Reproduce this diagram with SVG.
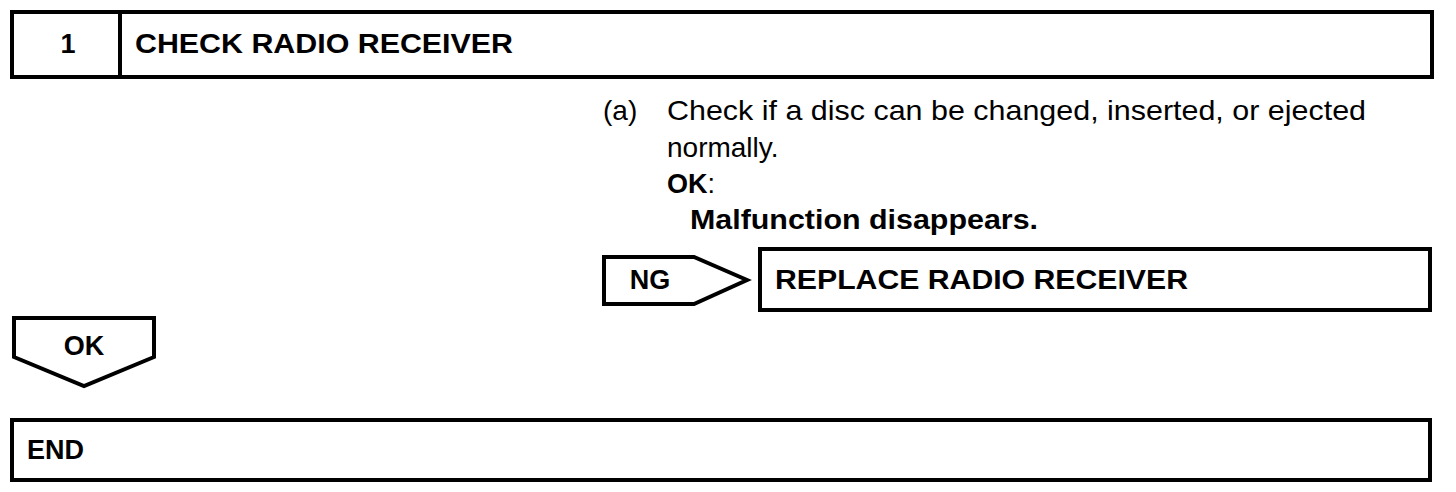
<svg xmlns="http://www.w3.org/2000/svg" width="1456" height="492" viewBox="0 0 1456 492">
<style>
.box{fill:#fff;stroke:#000;stroke-width:4}
.b{font-family:"Liberation Sans",Arial,sans-serif;font-weight:bold;font-size:27px;fill:#000}
.r{font-family:"Liberation Sans",Arial,sans-serif;font-size:28px;fill:#000}
</style>
<rect width="1456" height="492" fill="#fff"/>
<g id="step1">
<rect class="box" x="12" y="12" width="1420" height="65"/>
<line x1="120" y1="12" x2="120" y2="77" stroke="#000" stroke-width="4"/>
<text class="b" x="68" y="53" text-anchor="middle">1</text>
<text class="b" x="135" y="53" textLength="378" lengthAdjust="spacingAndGlyphs">CHECK RADIO RECEIVER</text>
</g>
<g id="instructions">
<text class="r" x="603" y="120">(a)</text>
<text class="r" x="667" y="120" textLength="699" lengthAdjust="spacingAndGlyphs">Check if a disc can be changed, inserted, or ejected</text>
<text class="r" x="667" y="157">normally.</text>
<text class="b" x="667" y="193">OK<tspan font-weight="normal">:</tspan></text>
<text class="b" x="690" y="229" textLength="348" lengthAdjust="spacingAndGlyphs">Malfunction disappears.</text>
</g>
<g id="connectors">
<g id="ng">
<polygon class="box" points="604,257 694,257 747,280 694,304 604,304"/>
<text class="b" x="650" y="289" text-anchor="middle">NG</text>
</g>
<g id="ok">
<polygon class="box" points="14,318 154,318 154,357 84,386 14,357"/>
<text class="b" x="84" y="355" text-anchor="middle">OK</text>
</g>
</g>
<g id="replace">
<rect class="box" x="760" y="249" width="670" height="61"/>
<text class="b" x="775" y="289" textLength="413" lengthAdjust="spacingAndGlyphs">REPLACE RADIO RECEIVER</text>
</g>
<g id="end">
<rect class="box" x="12" y="420" width="1418" height="60"/>
<text class="b" x="27" y="459">END</text>
</g>
</svg>
